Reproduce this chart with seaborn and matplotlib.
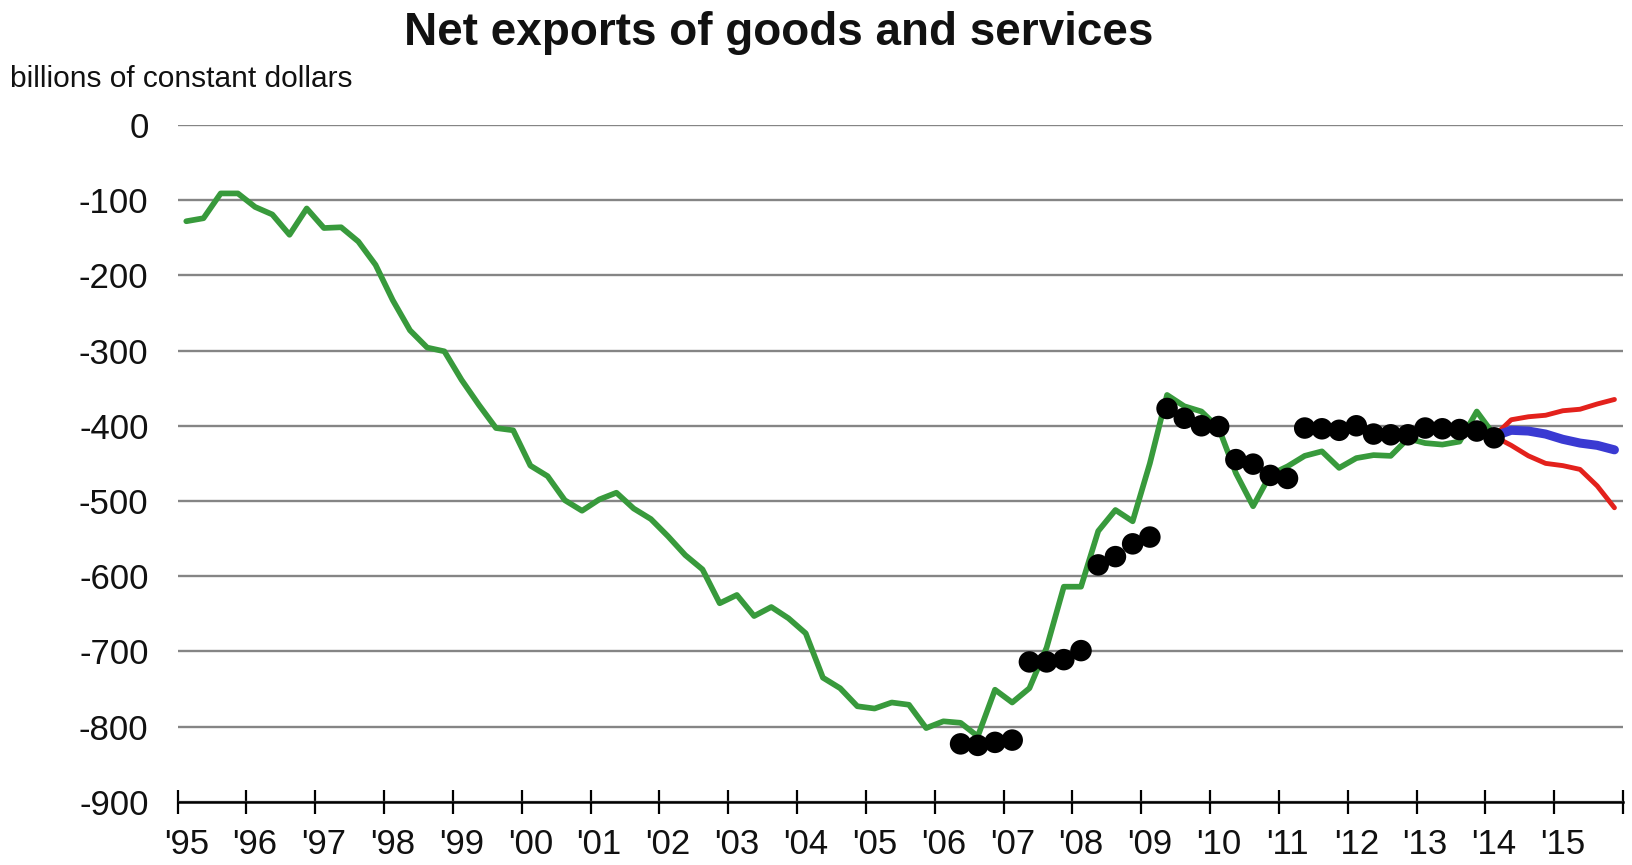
import numpy as np
import pandas as pd
import matplotlib
matplotlib.use("Agg")
import matplotlib.pyplot as plt
import seaborn as sns

# ---------------- data ----------------
start_year = 1995
# Actual net exports, quarterly 1995Q1 .. 2014Q1 (billions of constant dollars)
actual = [-128, -124, -91, -91, -109, -119, -146, -111, -137, -136, -155, -186,
          -233, -273, -296, -301, -339, -372, -403, -406, -453, -467, -499, -513,
          -498, -489, -510, -524, -547, -572, -591, -636, -625, -653, -641, -656,
          -676, -735, -749, -773, -776, -768, -771, -802, -793, -795, -813, -751,
          -768, -749, -695, -614, -614, -540, -512, -527, -450, -359, -374, -381,
          -403, -463, -507, -465, -454, -440, -434, -456, -443, -439, -440, -417,
          -423, -425, -421, -381, -412]
# Forecast dots, quarterly 2006Q2 .. 2014Q1
forecast_start = 45  # quarter index of first dot (2006Q2)
forecast = [-823, -825, -821, -818, -714, -714, -711, -699, -585, -574, -557, -548,
            -377, -390, -400, -401, -445, -451, -466, -470, -403, -404, -406, -400,
            -411, -412, -412, -403, -404, -405, -407, -416]
# Projection 2014Q1 .. 2015Q4
proj_start = 76
proj_mid = [-414, -406, -407, -411, -418, -423, -426, -432]
proj_high = [-414, -392, -388, -386, -380, -378, -371, -365]
proj_low = [-414, -426, -440, -450, -453, -458, -480, -509]

year_labels = ["'95", "'96", "'97", "'98", "'99", "'00", "'01", "'02", "'03", "'04",
               "'05", "'06", "'07", "'08", "'09", "'10", "'11", "'12", "'13", "'14", "'15"]
y_ticks = [0, -100, -200, -300, -400, -500, -600, -700, -800, -900]


def qx(idx):
    idx = np.asarray(idx)
    return start_year + (idx + 0.5) / 4.0


df_act = pd.DataFrame({"x": qx(np.arange(len(actual))), "y": actual})
df_fc = pd.DataFrame({"x": qx(forecast_start + np.arange(len(forecast))), "y": forecast})
px = qx(proj_start + np.arange(len(proj_mid)))
df_mid = pd.DataFrame({"x": px, "y": proj_mid})
df_hi = pd.DataFrame({"x": px, "y": proj_high})
df_lo = pd.DataFrame({"x": px, "y": proj_low})

# ---------------- style ----------------
sns.set_theme(style="white")
plt.rcParams["font.family"] = ["Liberation Sans", "DejaVu Sans"]

fig = plt.figure(figsize=(16.33, 8.65), dpi=100)
ax = fig.add_axes([0.1088, 0.0731, 0.9939 - 0.1088, 0.8555 - 0.0731])

GREEN = "#389a3c"
RED = "#e3211c"
BLUE = "#3a3ad2"

sns.lineplot(data=df_act, x="x", y="y", ax=ax, color=GREEN, linewidth=4.1, zorder=3,
             sort=False)
sns.lineplot(data=df_hi, x="x", y="y", ax=ax, color=RED, linewidth=3.5, zorder=4, sort=False)
sns.lineplot(data=df_lo, x="x", y="y", ax=ax, color=RED, linewidth=3.5, zorder=4, sort=False)
sns.lineplot(data=df_mid, x="x", y="y", ax=ax, color=BLUE, linewidth=6.5, zorder=5,
             sort=False, solid_capstyle="round")
sns.scatterplot(data=df_fc, x="x", y="y", ax=ax, color="black", s=240, edgecolor="none",
                zorder=6)

ax.set_xlim(1995, 2016)
ax.set_ylim(-900, 0)
ax.set_xlabel("")
ax.set_ylabel("")

# y axis
ax.set_yticks(y_ticks)
ax.set_yticklabels([str(v) for v in y_ticks])
ax.tick_params(axis="y", length=0, pad=21, labelsize=25, labelcolor="#111111")
ax.yaxis.grid(True, color="#858585", linewidth=1.7)
ax.xaxis.grid(False)
ax.set_axisbelow(True)

# x axis: tick marks at year boundaries, labels centred on first quarter
ax.set_xticks(np.arange(1995, 2017))
ax.set_xticklabels([])
ax.set_xticks(start_year + np.arange(len(year_labels)) + 0.125, minor=True)
ax.set_xticklabels(year_labels, minor=True)
ax.tick_params(axis="x", which="major", direction="inout", length=17, width=1.6,
               color="black", bottom=True)
ax.tick_params(axis="x", which="minor", length=0, pad=19, labelsize=25,
               labelcolor="#111111", bottom=True)

for s in ["top", "right", "left"]:
    ax.spines[s].set_visible(False)
ax.spines["bottom"].set_color("black")
ax.spines["bottom"].set_linewidth(1.8)
ax.spines["bottom"].set_zorder(2.5)

fig.text(0.4767, 0.962, "Net exports of goods and services", ha="center", va="center",
         fontsize=33, fontweight="bold", color="#111111")
fig.text(0.0064, 0.909, "billions of constant dollars", ha="left", va="center",
         fontsize=21.5, color="#111111")

fig.savefig("out.png", dpi=100, facecolor="white")
